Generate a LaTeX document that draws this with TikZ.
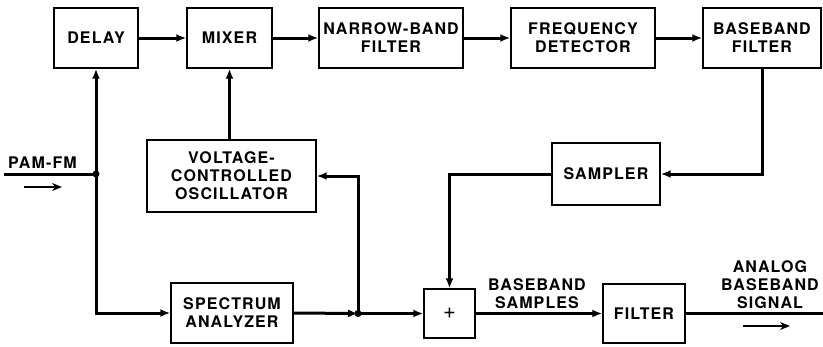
\documentclass[tikz,border=0pt]{standalone}
\usepackage{fontspec}
\setmainfont{TeX Gyre Heros}[LetterSpace=7]
\usetikzlibrary{arrows.meta}
\begin{document}
\begin{tikzpicture}[x=1pt,y=-1pt,font=\fontsize{16}{18}\selectfont\bfseries,
    blk/.style={draw,line width=1.4pt,align=center,inner sep=0pt},
    sig/.style={line width=3pt,-{Latex[length=10pt,width=8pt]}},
    wire/.style={line width=3pt},
    hint/.style={line width=2.6pt,-{Stealth[length=10pt,width=8pt]}}]
    \useasboundingbox (0,0) rectangle (823,346);

    \node[blk,minimum width=84pt,minimum height=60pt] (delay) at (96,38) {DELAY};
    \node[blk,minimum width=85pt,minimum height=60pt] (mixer) at (229.5,38) {MIXER};
    \node[blk,minimum width=144pt,minimum height=60pt] (nbf) at (391,38) {NARROW-BAND\\FILTER};
    \node[blk,minimum width=144pt,minimum height=60pt] (fdet) at (583,38) {FREQUENCY\\DETECTOR};
    \node[blk,minimum width=118pt,minimum height=60pt] (bbf) at (762,38) {BASEBAND\\FILTER};
    \node[blk,minimum width=169pt,minimum height=72pt] (vco) at (231.5,176) {VOLTAGE-\\CONTROLLED\\OSCILLATOR};
    \node[blk,minimum width=108pt,minimum height=62pt] (sampler) at (606,174) {SAMPLER};
    \node[blk,minimum width=122pt,minimum height=60pt] (spec) at (232,313) {SPECTRUM\\ANALYZER};
    \node[blk,minimum width=51pt,minimum height=49pt,font=\fontsize{22}{22}\selectfont] (plus) at (449.5,313.5) {+};
    \node[blk,minimum width=82pt,minimum height=59pt] (filt) at (644,313.5) {FILTER};

    \coordinate (in) at (4,174);
    \coordinate (j1) at (96,174);
    \coordinate (j2) at (358,313.5);
    \coordinate (out) at (823,313.5);

    \draw[sig] (delay) -- (mixer);
    \draw[sig] (mixer) -- (nbf);
    \draw[sig] (nbf) -- (fdet);
    \draw[sig] (fdet) -- (bbf);
    \draw[sig] (bbf.south) |- (sampler.east);
    \draw[sig] (sampler.west) -| (plus.north);
    \draw[sig] (vco.north -| mixer.south) -- (mixer.south);

    \draw[wire] (in) -- (j1);
    \draw[sig] (j1) -- (delay.south);
    \draw[sig] (j1) |- (spec.west);
    \draw[sig] (spec.east) -- (j2);
    \draw[sig] (j2) -- (plus.west);
    \draw[sig] (j2) |- (vco.east);
    \draw[sig] (plus.east) -- (filt.west);
    \draw[wire] (filt.east) -- (out);
    \fill (j1) circle (3.5);
    \fill (j2) circle (3.5);

    \node[anchor=south west,inner sep=1pt] (pamfm) at (7,170) {PAM-FM};
    \coordinate (pa) at (24,187);
    \coordinate (pb) at (62,187);
    \draw[hint] (pa) -- (pb);

    \node[anchor=south,align=center,inner sep=1pt] (bbs) at (537,310) {BASEBAND\\SAMPLES};
    \node[anchor=south,align=center,inner sep=1pt] (abs) at (770,310) {ANALOG\\BASEBAND\\SIGNAL};
    \coordinate (oa) at (743,326);
    \coordinate (ob) at (790,326);
    \draw[hint] (oa) -- (ob);
\end{tikzpicture}
\end{document}
